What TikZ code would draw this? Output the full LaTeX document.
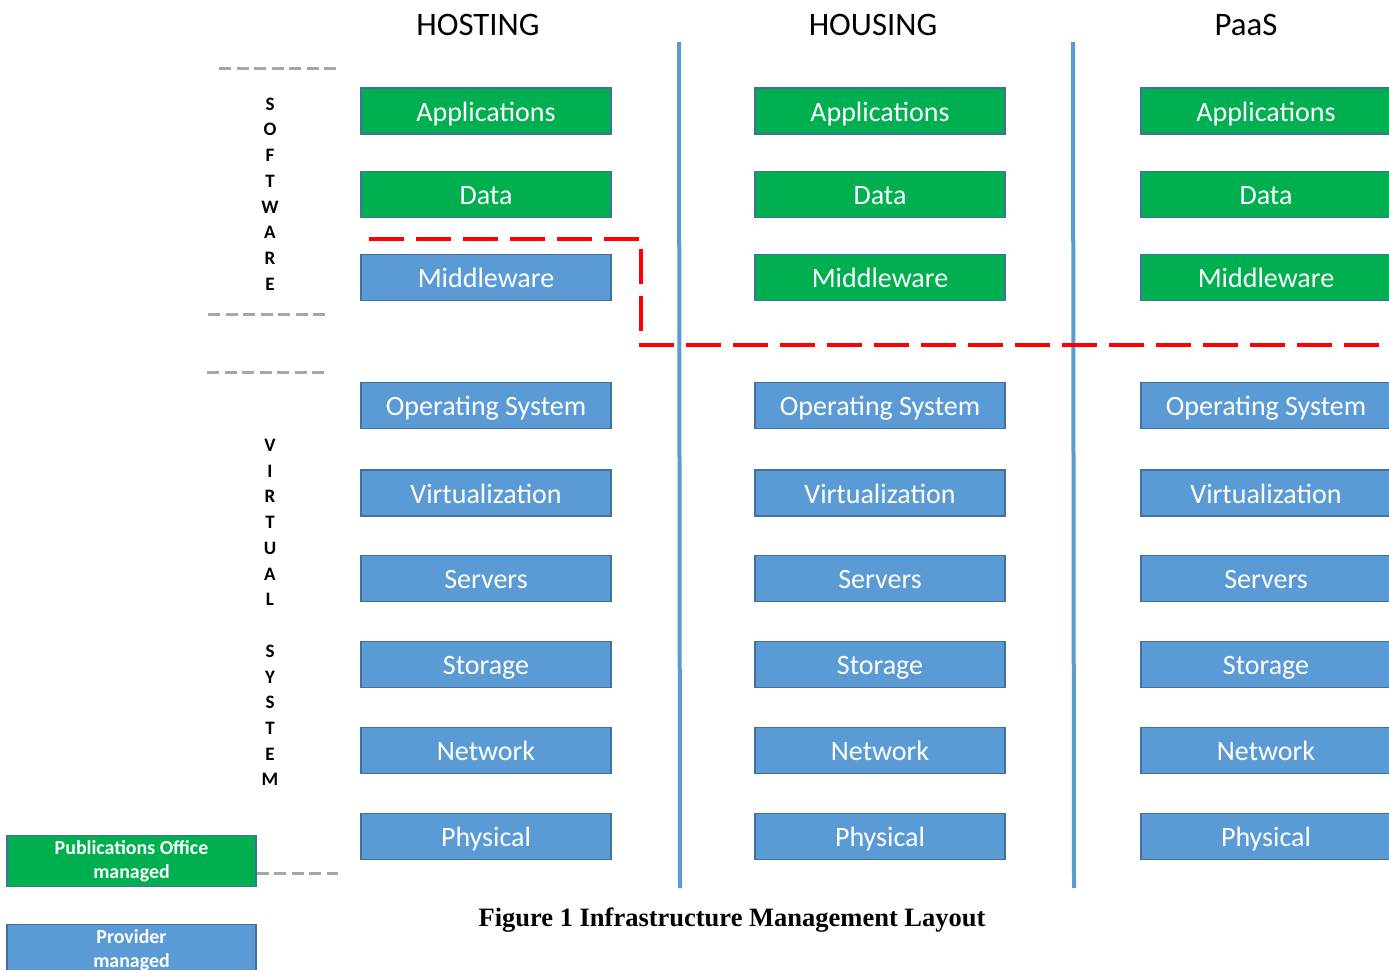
\documentclass[tikz,border=0pt]{standalone}
\usepackage{fontspec}
\setmainfont{Carlito}
\newfontfamily\capfont{Liberation Serif}
\definecolor{pogreen}{HTML}{00B050}
\definecolor{provblue}{HTML}{5B9BD5}
\definecolor{boxedge}{HTML}{41719C}
\definecolor{sepgray}{HTML}{A6A6A6}
\definecolor{limitred}{HTML}{FF0000}
\begin{document}
\begin{tikzpicture}[x=1pt,y=-1pt,
  layer/.style={draw=boxedge,line width=1.3pt,minimum width=250pt,minimum height=46pt,
    inner sep=0pt,text height=20pt,text depth=0pt,text=white,font=\fontsize{28}{32}\selectfont},
  pobox/.style={layer,fill=pogreen},
  provbox/.style={layer,fill=provblue},
  legendbox/.style={draw=boxedge,line width=1.3pt,minimum width=249pt,minimum height=51pt,
    inner sep=0pt,text=white,align=center,font=\fontsize{19.9}{23.5}\selectfont\bfseries},
  coltitle/.style={font=\fontsize{32.8}{38}\selectfont,text=black},
  spelled/.style={align=center,font=\fontsize{19}{25.7}\selectfont\bfseries,inner sep=0pt},
  divider/.style={draw=provblue,line width=4pt},
  sep/.style={draw=sepgray,line width=3pt,dash pattern=on 12pt off 5.5pt},
  limit/.style={draw=limitred,line width=3.5pt,dash pattern=on 35pt off 12pt}]
\useasboundingbox (0,0) rectangle (1389,969);
\clip (0,0) rectangle (1389,969);

% column titles
\node[coltitle] (t-host) at (478,25) {HOSTING};
\node[coltitle] (t-hous) at (873,25) {HOUSING};
\node[coltitle] (t-paas) at (1246,25) {PaaS};

% column dividers
\coordinate (d1a) at (679,42); \coordinate (d1b) at (680,888);
\coordinate (d2a) at (1073,42); \coordinate (d2b) at (1074,888);
\draw[divider] (d1a) -- (d1b);
\draw[divider] (d2a) -- (d2b);

% HOSTING stack
\node[pobox]   (h1) at (486,111) {Applications};
\node[pobox]   (h2) at (486,194.5) {Data};
\node[provbox] (h3) at (486,277.5) {Middleware};
\node[provbox] (h4) at (486,405.5) {Operating System};
\node[provbox] (h5) at (486,493) {Virtualization};
\node[provbox] (h6) at (486,578.5) {Servers};
\node[provbox] (h7) at (486,664.5) {Storage};
\node[provbox] (h8) at (486,750.5) {Network};
\node[provbox] (h9) at (486,836.5) {Physical};

% HOUSING stack
\node[pobox]   (u1) at (880,111) {Applications};
\node[pobox]   (u2) at (880,194.5) {Data};
\node[pobox]   (u3) at (880,277.5) {Middleware};
\node[provbox] (u4) at (880,405.5) {Operating System};
\node[provbox] (u5) at (880,493) {Virtualization};
\node[provbox] (u6) at (880,578.5) {Servers};
\node[provbox] (u7) at (880,664.5) {Storage};
\node[provbox] (u8) at (880,750.5) {Network};
\node[provbox] (u9) at (880,836.5) {Physical};

% PaaS stack
\node[pobox]   (p1) at (1266,111) {Applications};
\node[pobox]   (p2) at (1266,194.5) {Data};
\node[pobox]   (p3) at (1266,277.5) {Middleware};
\node[provbox] (p4) at (1266,405.5) {Operating System};
\node[provbox] (p5) at (1266,493) {Virtualization};
\node[provbox] (p6) at (1266,578.5) {Servers};
\node[provbox] (p7) at (1266,664.5) {Storage};
\node[provbox] (p8) at (1266,750.5) {Network};
\node[provbox] (p9) at (1266,836.5) {Physical};

% responsibility boundary
\coordinate (r1) at (369,239);
\coordinate (r2) at (641,239);
\coordinate (r3) at (641,345);
\coordinate (r4) at (1400,345);
\draw[limit] (r1) -- (r2) -- (r3) -- (r4);

% side labels and separators
\node[spelled] (soft) at (270,194) {S\\O\\F\\T\\W\\A\\R\\E};
\node[spelled] (virt) at (270,522.5) {V\\I\\R\\T\\U\\A\\L};
\node[spelled] (sys) at (270,715.5) {S\\Y\\S\\T\\E\\M};
\coordinate (s1a) at (219,68);  \coordinate (s1b) at (338,68);
\coordinate (s2a) at (208,314); \coordinate (s2b) at (328,314);
\coordinate (s3a) at (207,372); \coordinate (s3b) at (327,372);
\coordinate (s4b) at (338,873);
\draw[sep] (s1a) -- (s1b);
\draw[sep] (s2a) -- (s2b);
\draw[sep] (s3a) -- (s3b);

% legend
\node[legendbox,fill=pogreen] (lg1) at (131.5,861) {Publications Office\\managed};
\node[legendbox,fill=provblue] (lg2) at (131.5,950) {Provider\\managed};
\draw[sep] (lg1.east |- s4b) -- (s4b);

% caption
\node[font=\capfont\fontsize{26.5}{30}\selectfont\bfseries] (cap) at (732,920)
  {Figure 1 Infrastructure Management Layout};
\end{tikzpicture}
\end{document}
